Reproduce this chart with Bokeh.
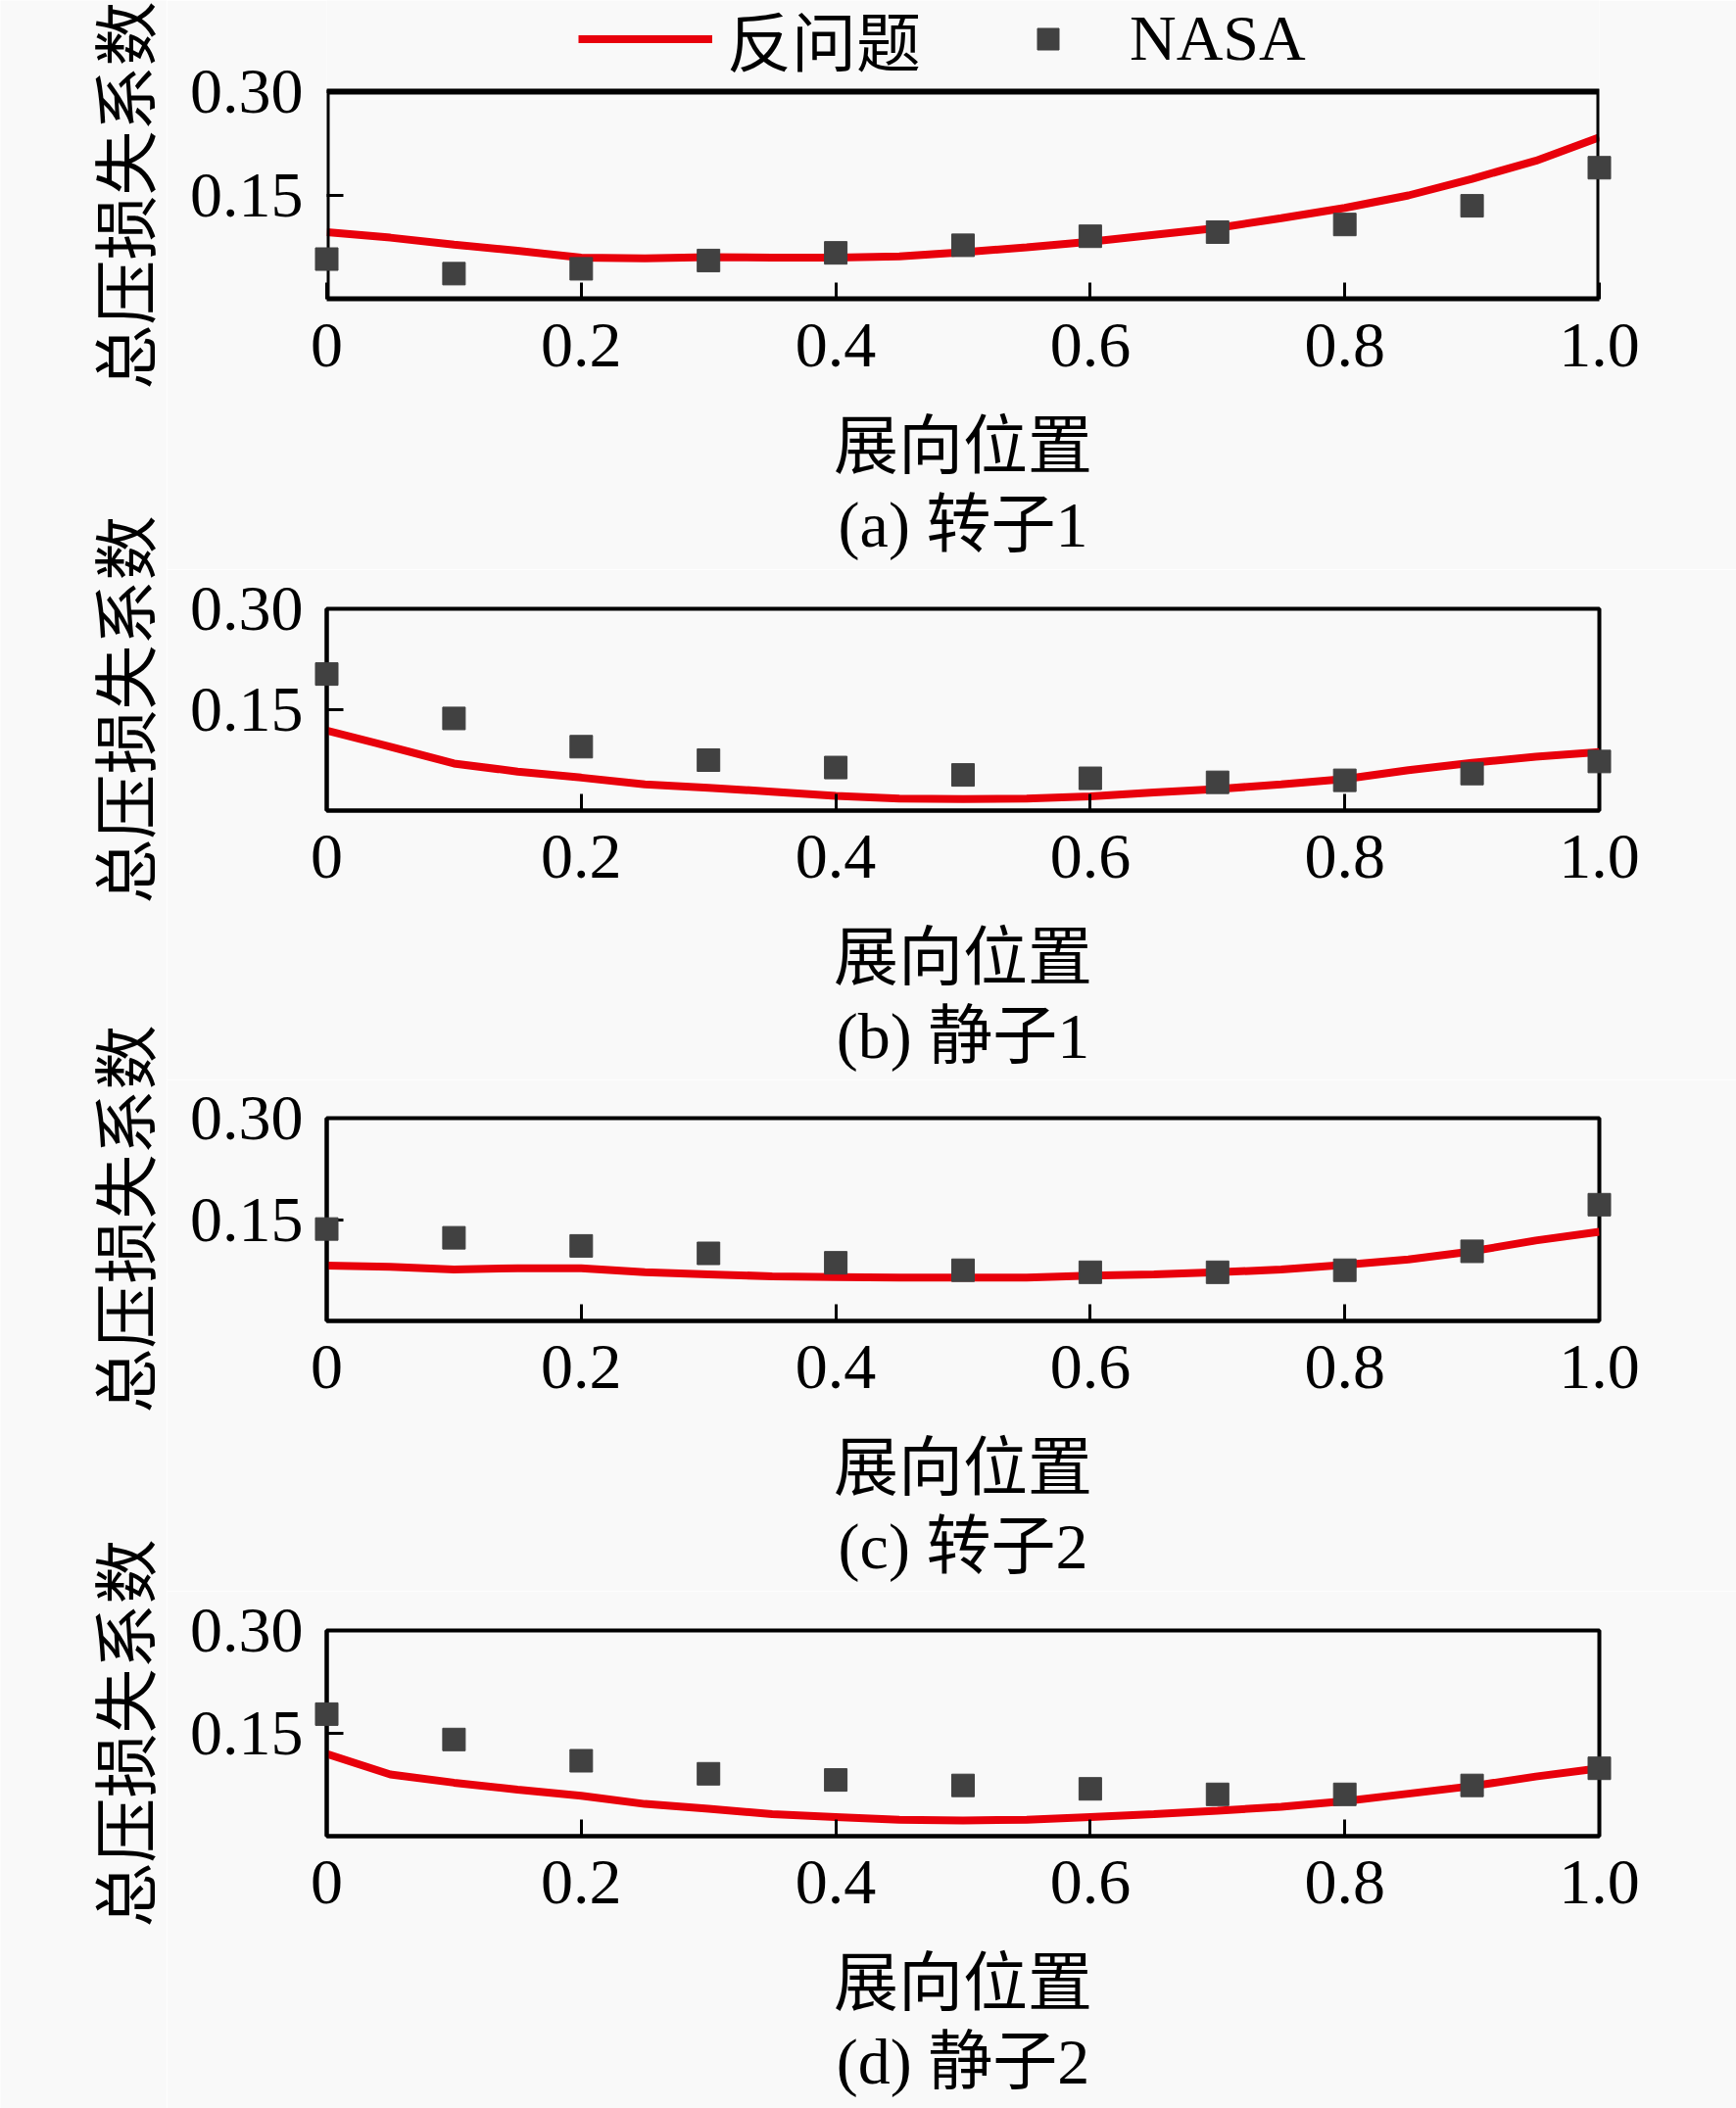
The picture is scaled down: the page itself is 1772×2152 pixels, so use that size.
import math
from bokeh.plotting import figure
from bokeh.models import (FixedTicker, Legend, LegendItem, Title, Range1d, Label,
                          BoxAnnotation)
from bokeh.layouts import column, row
from bokeh.embed import file_html
from bokeh.resources import INLINE

# ---------------- data ----------------
x_line = [0.00, 0.05, 0.10, 0.15, 0.20, 0.25, 0.30, 0.35, 0.40, 0.45, 0.50,
          0.55, 0.60, 0.65, 0.70, 0.75, 0.80, 0.85, 0.90, 0.95, 1.00]
x_nasa = [0.0, 0.1, 0.2, 0.3, 0.4, 0.5, 0.6, 0.7, 0.8, 0.9, 1.0]

line_a = [0.097, 0.089, 0.079, 0.070, 0.060, 0.059, 0.061, 0.060, 0.060, 0.062, 0.068,
          0.075, 0.083, 0.093, 0.103, 0.117, 0.132, 0.150, 0.174, 0.200, 0.234]
nasa_a = [0.058, 0.037, 0.044, 0.056, 0.067, 0.078, 0.091, 0.097, 0.108, 0.135, 0.190]

line_b = [0.119, 0.095, 0.070, 0.058, 0.049, 0.039, 0.034, 0.028, 0.022, 0.018, 0.017,
          0.018, 0.021, 0.027, 0.032, 0.039, 0.047, 0.060, 0.071, 0.080, 0.087]
nasa_b = [0.203, 0.137, 0.095, 0.075, 0.064, 0.053, 0.048, 0.042, 0.045, 0.055, 0.073]

line_c = [0.082, 0.080, 0.076, 0.078, 0.078, 0.072, 0.069, 0.066, 0.065, 0.064, 0.064,
          0.064, 0.067, 0.069, 0.072, 0.076, 0.083, 0.091, 0.103, 0.119, 0.132]
nasa_c = [0.136, 0.123, 0.111, 0.100, 0.086, 0.075, 0.072, 0.072, 0.075, 0.103, 0.172]

line_d = [0.120, 0.090, 0.078, 0.068, 0.059, 0.047, 0.040, 0.032, 0.028, 0.024, 0.023,
          0.024, 0.028, 0.032, 0.037, 0.043, 0.051, 0.062, 0.073, 0.087, 0.099]
nasa_d = [0.178, 0.141, 0.110, 0.091, 0.082, 0.074, 0.069, 0.061, 0.061, 0.074, 0.099]

panel_captions = ["(a) 转子1", "(b) 静子1", "(c) 转子2", "(d) 静子2"]
x_ticks = [0, 0.2, 0.4, 0.6, 0.8, 1.0]
x_tick_labels = ["0", "0.2", "0.4", "0.6", "0.8", "1.0"]
y_ticks = [0.15, 0.30]
y_tick_labels = ["0.15", "0.30"]
y_max = 0.30
x_label = "展向位置"
y_label = "总压损失系数"
legend_labels = ["反问题", "NASA"]

# ---------------- style / layout ----------------
FONT = "Liberation Serif, Noto Sans CJK SC"
FS = "66px"
BG = "#f9f9f9"
RED = "#e8000b"
GRAY = "#414141"

LABEL_W = 170
BOX_H = [212, 206, 207, 210]      # pixel height of the plotted box
LEG_H = 93                        # room above panel (a) for the legend
b_top = [0, 40, 39, 40]
b_bot = [276, 275, 276, 278]
lines = [line_a, line_b, line_c, line_d]
nasas = [nasa_a, nasa_b, nasa_c, nasa_d]


def make_fig(i):
    if i == 0:
        fh = BOX_H[0] + LEG_H
        y_end = y_max * fh / BOX_H[0]
    else:
        fh = BOX_H[i]
        y_end = y_max
    p = figure(frame_width=1299, frame_height=fh,
               min_border_left=163, min_border_right=140,
               min_border_top=b_top[i], min_border_bottom=b_bot[i],
               x_range=Range1d(0, 1), y_range=Range1d(0, y_end),
               output_backend="svg", toolbar_location=None,
               background_fill_color=BG, border_fill_color=BG)
    p.grid.visible = False

    for ax in (p.xaxis[0], p.yaxis[0]):
        ax.axis_line_width = 4
        ax.axis_line_color = "black"
        ax.major_tick_line_width = 3
        ax.major_tick_in = 17
        ax.major_tick_out = 0
        ax.minor_tick_line_color = None
        ax.major_label_text_font = FONT
        ax.major_label_text_font_size = FS
        ax.major_label_text_color = "black"
        ax.axis_label_text_font = FONT
        ax.axis_label_text_font_size = FS
        ax.axis_label_text_font_style = "normal"
        ax.axis_label_text_color = "black"

    p.xaxis.ticker = FixedTicker(ticks=x_ticks)
    p.xaxis.major_label_overrides = dict(zip(x_ticks, x_tick_labels))
    p.xaxis.axis_label = x_label
    p.xaxis.major_label_standoff = 25
    p.xaxis.axis_label_standoff = 42

    p.yaxis.ticker = FixedTicker(ticks=y_ticks)
    p.yaxis.major_label_overrides = dict(zip(y_ticks, y_tick_labels))
    p.yaxis.major_label_standoff = 24

    if i == 0:
        # frame is taller than the box: draw the box as an annotation
        p.outline_line_color = None
        p.yaxis.axis_line_color = None
        p.add_layout(BoxAnnotation(left=0, right=1, bottom=0, top=y_max,
                                   fill_color=None, fill_alpha=0,
                                   line_color="black", line_alpha=1.0,
                                   line_width=6))
    else:
        p.outline_line_color = "black"
        p.outline_line_width = 4

    lr = p.line(x_line, lines[i], line_color=RED, line_width=8)
    sr = p.scatter(x_nasa, nasas[i], marker="square", size=23,
                   fill_color=GRAY, line_color=GRAY, level="overlay")

    if i == 0:
        leg = Legend(items=[LegendItem(label=legend_labels[0], renderers=[lr]),
                            LegendItem(label=legend_labels[1], renderers=[sr])],
                     orientation="horizontal", location=(257, 218),
                     glyph_width=137, glyph_height=55, label_standoff=15,
                     spacing=61, padding=0, margin=0,
                     border_line_color=None, background_fill_alpha=0,
                     label_text_font=FONT, label_text_font_size=FS,
                     label_text_color="black")
        p.add_layout(leg)

    t = Title(text=panel_captions[i], align="center", text_font=FONT,
              text_font_size=FS, text_font_style="normal",
              text_color="black", standoff=5)
    p.add_layout(t, "below")
    return p


figs = [make_fig(i) for i in range(4)]

# narrow figure on the left that carries the rotated y-axis titles
lab = figure(frame_width=LABEL_W, frame_height=2152, min_border=0,
             x_range=Range1d(0, LABEL_W), y_range=Range1d(2152, 0),
             x_axis_type=None, y_axis_type=None,
             output_backend="svg", toolbar_location=None,
             background_fill_color=BG, border_fill_color=BG)
lab.grid.visible = False
lab.outline_line_color = None
frame_centers = [199, 724, 1244, 1769]
for yc in frame_centers:
    lab.add_layout(Label(x=130, y=yc, text=y_label, angle=math.pi / 2,
                         text_align="center", text_baseline="middle",
                         text_font=FONT, text_font_size=FS, text_color="black"))

layout = row(lab, column(*figs, spacing=0), spacing=0)

html = file_html(layout, INLINE, title="总压损失系数")
open("out.html", "w").write(html)
